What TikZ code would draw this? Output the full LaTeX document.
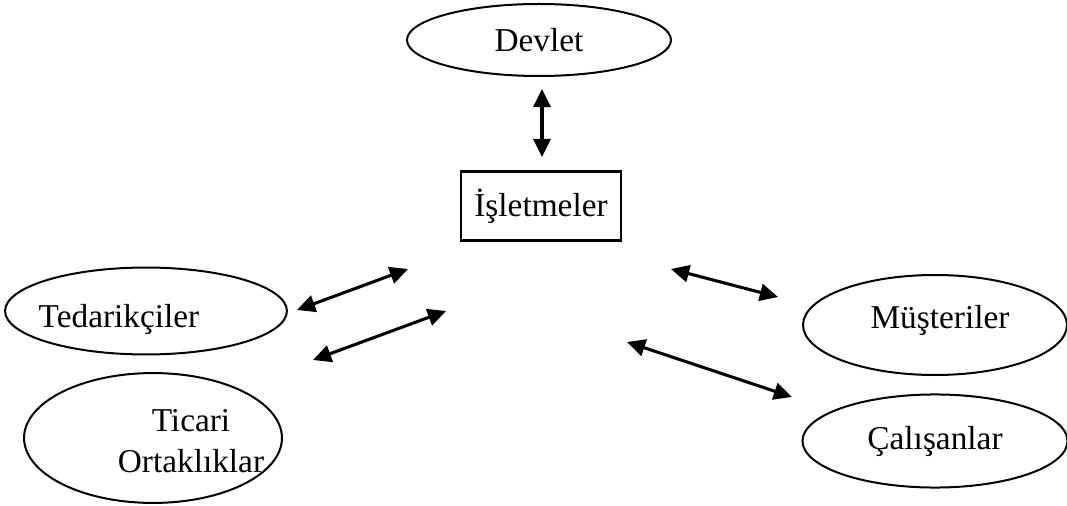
\documentclass[tikz,border=0pt]{standalone}
\usepackage{fontspec}
\setmainfont{Liberation Serif}
\usetikzlibrary{arrows.meta,shapes.geometric,positioning}

\begin{document}
\begin{tikzpicture}
[x=0.375pt,y=-0.375pt,inner sep=0pt,
 font=\fontsize{12.5}{15.4}\selectfont,
 party/.style={ellipse,draw=black,line width=0.75pt},
 firm/.style={rectangle,draw=black,line width=0.8pt},
 link/.style={line width=1.15pt,
   {Triangle[length=6.8pt,width=6.4pt]}-{Triangle[length=6.8pt,width=6.4pt]}}]
\useasboundingbox (0,0) rectangle (1067,506);

% the firm and the parties round it
\node[firm,minimum width=60pt,minimum height=25.9pt] (isletmeler) at (541,206) {İşletmeler};
\node[party,minimum width=99pt,minimum height=27pt] (devlet) at (539,40) {Devlet};
\node[party,minimum width=105.7pt,minimum height=32.6pt,
  label={[shift={(-27,8)}]center:Tedarikçiler}] (tedarikciler) at (146,311) {};
\node[party,minimum width=96.7pt,minimum height=48.7pt,
  label={[shift={(38,3)},align=center]center:Ticari\\Ortaklıklar}] (ortaklar) at (153,438) {};
\node[party,minimum width=99pt,minimum height=37.5pt,
  label={[shift={(5,-5)}]center:Müşteriler}] (musteriler) at (935,325) {};
\node[party,minimum width=99.4pt,minimum height=34.9pt] (calisanlar) at (935,441) {Çalışanlar};

% arrow ends
\coordinate (devlet end) at (542,89);
\coordinate (firm top) at (542,157);
\coordinate (ted end) at (297,310);
\coordinate (ted firm) at (408,269);
\coordinate (ort end) at (313,360);
\coordinate (ort firm) at (446,311);
\coordinate (mus firm) at (671,269);
\coordinate (mus end) at (778,297);
\coordinate (cal firm) at (627,342);
\coordinate (cal end) at (792,397);

\draw[link] (devlet end) -- (firm top);
\draw[link] (ted end) -- (ted firm);
\draw[link] (ort end) -- (ort firm);
\draw[link] (mus firm) -- (mus end);
\draw[link] (cal firm) -- (cal end);
\end{tikzpicture}
\end{document}
